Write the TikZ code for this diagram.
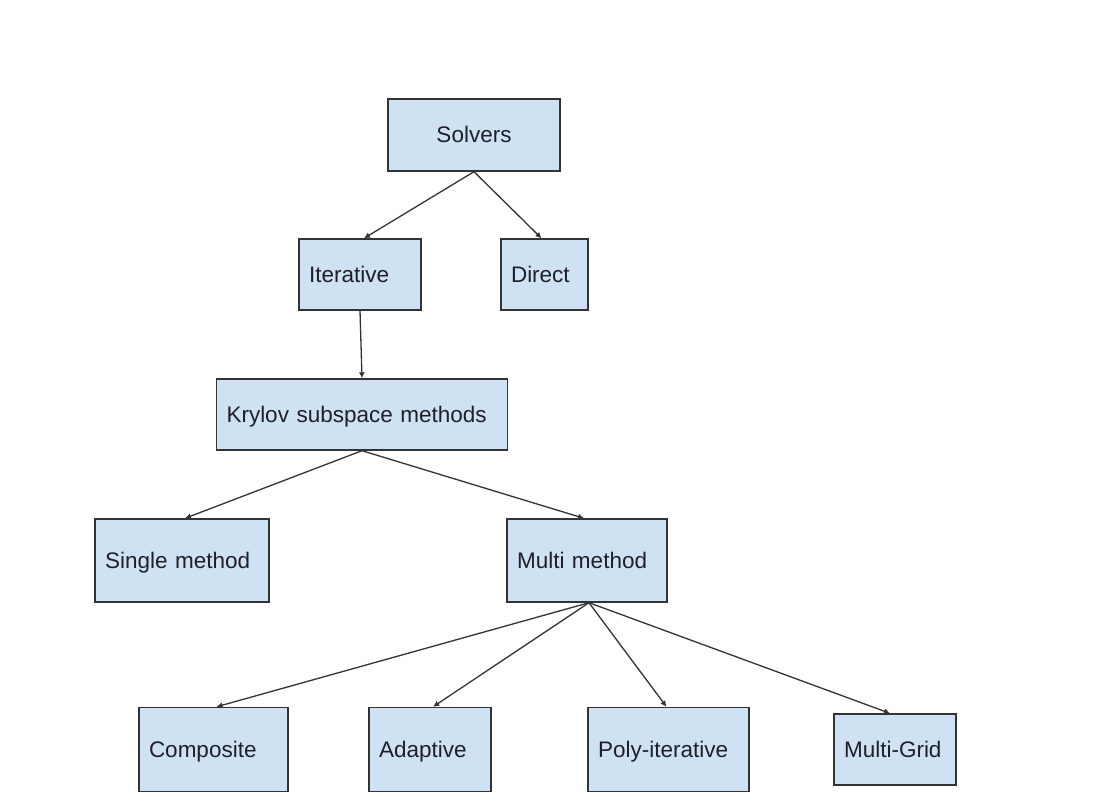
\documentclass[tikz,border=0pt]{standalone}
\usepackage{fontspec}
\setmainfont{Liberation Sans}
\usetikzlibrary{arrows.meta}
\definecolor{boxfill}{HTML}{CFE2F3}
\definecolor{boxline}{HTML}{333333}
\definecolor{txt}{HTML}{1F1F2A}
\tikzset{
  box/.style={draw=boxline, fill=boxfill, line width=1.4pt, rectangle,
    inner xsep=10pt, inner ysep=0pt, align=left, text=txt,
    font=\fontsize{22.5}{27}\selectfont, text height=16pt, text depth=0pt},
  link/.style={draw=boxline, line width=1.3pt,
    -{Latex[length=6pt,width=6pt]}}
}
\begin{document}
\begin{tikzpicture}[x=1pt,y=-1pt]
  \useasboundingbox[fill=white] (0,0) rectangle (1094,805);
  % tree of solver families
  \node[box, align=center, text width=152pt, minimum height=72pt] (solvers) at (474,135) {Solvers};
  \node[box, text width=102pt, minimum height=71pt] (iter) at (360,274.5) {Iterative};
  \node[box, text width=67pt, minimum height=71pt] (direct) at (544.5,274.5) {Direct};
  \node[box, text width=271pt, minimum height=71pt] (krylov) at (362,414.5) {Krylov subspace methods};
  \node[box, text width=154pt, minimum height=83pt] (single) at (182,560.5) {Single method};
  \node[box, text width=140pt, minimum height=83pt] (multi) at (587,560.5) {Multi method};
  \node[box, text width=129pt, minimum height=84pt] (comp) at (213.5,749.5) {Composite};
  \node[box, text width=102pt, minimum height=84pt] (adapt) at (430,749.5) {Adaptive};
  \node[box, text width=141pt, minimum height=84pt] (poly) at (668.5,749.5) {Poly-iterative};
  \node[box, text width=102pt, minimum height=71pt] (grid) at (895,749.5) {Multi-Grid};
  % connectors
  \draw[link] (solvers.south) -- ([xshift=4pt]iter.north);
  \draw[link] (solvers.south) -- ([xshift=-3pt]direct.north);
  \draw[link] (iter.south) -- (krylov.north);
  \draw[link] (krylov.south) -- ([xshift=3pt]single.north);
  \draw[link] (krylov.south) -- ([xshift=-3pt]multi.north);
  \draw[link] ([xshift=2pt]multi.south) -- ([xshift=3pt]comp.north);
  \draw[link] ([xshift=2pt]multi.south) -- ([xshift=3pt]adapt.north);
  \draw[link] ([xshift=2pt]multi.south) -- ([xshift=-2pt]poly.north);
  \draw[link] ([xshift=2pt]multi.south) -- ([xshift=-5pt]grid.north);
\end{tikzpicture}
\end{document}
